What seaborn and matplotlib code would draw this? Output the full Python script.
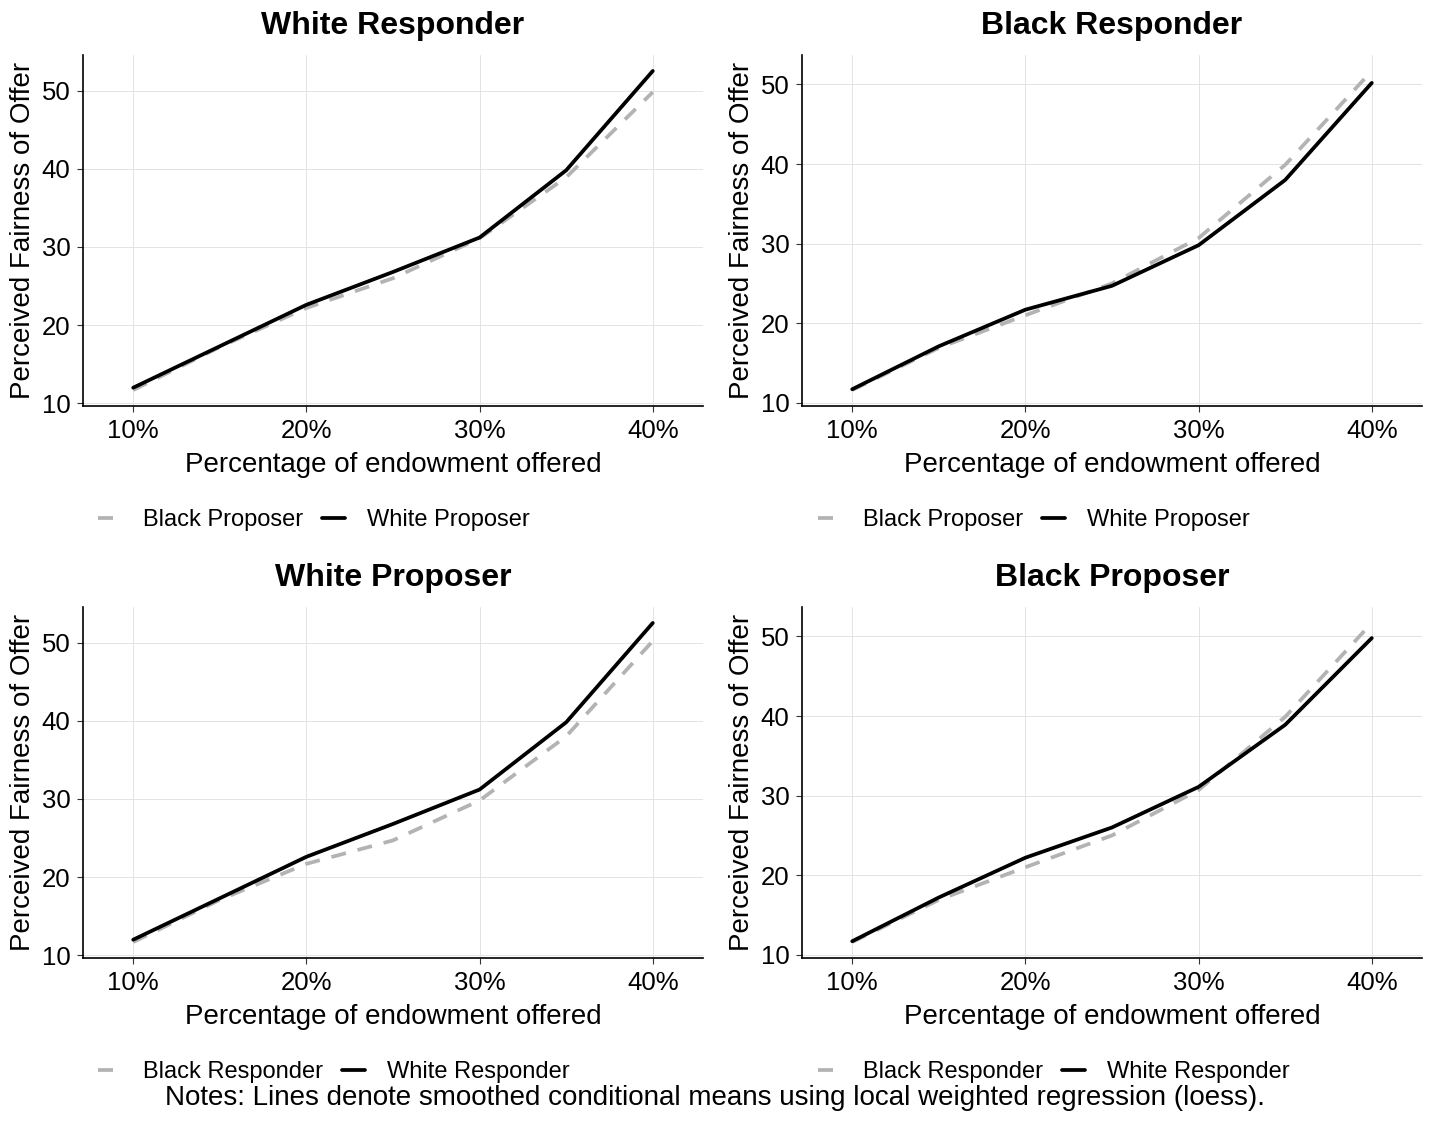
import pandas as pd
import matplotlib.pyplot as plt
import matplotlib.ticker as mticker
import seaborn as sns

# =========================================================
# DATA (loess fitted means)
# =========================================================
offer_pct = [10, 15, 20, 25, 30, 35, 40]

# responder x proposer
white_resp_white_prop = [12.0, 17.3, 22.6, 26.8, 31.2, 39.8, 52.5]
white_resp_black_prop = [11.7, 17.2, 22.2, 26.0, 31.1, 38.9, 49.8]
black_resp_white_prop = [11.7, 17.1, 21.7, 24.7, 29.8, 38.0, 50.2]
black_resp_black_prop = [11.6, 16.9, 21.0, 25.0, 30.7, 39.9, 51.7]

panel_titles = ["White Responder", "Black Responder", "White Proposer", "Black Proposer"]
panel_series = [
    {"Black Proposer": white_resp_black_prop, "White Proposer": white_resp_white_prop},
    {"Black Proposer": black_resp_black_prop, "White Proposer": black_resp_white_prop},
    {"Black Responder": black_resp_white_prop, "White Responder": white_resp_white_prop},
    {"Black Responder": black_resp_black_prop, "White Responder": white_resp_black_prop},
]

notes = "Notes: Lines denote smoothed conditional means using local weighted regression (loess)."

# =========================================================
# STYLE
# =========================================================
sns.set_theme(style="whitegrid")
plt.rcParams["font.family"] = ["Liberation Sans", "DejaVu Sans"]
plt.rcParams["text.color"] = "black"
plt.rcParams["axes.labelcolor"] = "black"
plt.rcParams["xtick.color"] = "black"
plt.rcParams["ytick.color"] = "black"

GREY = "#b3b3b3"
LW = 2.7

fig = plt.figure(figsize=(14.3, 11.44), dpi=100)

left_pos = [83 / 1430, 802 / 1430]
bottom_pos = [1 - 406 / 1144, 1 - 958 / 1144]
ax_w, ax_h = 620 / 1430, 351 / 1144

for i, (title, series) in enumerate(zip(panel_titles, panel_series)):
    row, col = divmod(i, 2)
    ax = fig.add_axes([left_pos[col], bottom_pos[row], ax_w, ax_h])

    names = list(series.keys())
    df = pd.concat([pd.DataFrame({"offer": offer_pct, "fair": vals, "group": name})
                    for name, vals in series.items()])

    sns.lineplot(data=df, x="offer", y="fair", hue="group", style="group",
                 hue_order=names, style_order=names,
                 palette={names[0]: GREY, names[1]: "black"},
                 dashes={names[0]: (4, 3.2), names[1]: ""},
                 linewidth=LW, legend=True, ax=ax)

    lo = df["fair"].min()
    hi = df["fair"].max()
    pad = (hi - lo) * 0.05
    ax.set_ylim(lo - pad, hi + pad)
    ax.set_xlim(7.1, 42.9)

    ax.set_xticks([10, 20, 30, 40])
    ax.xaxis.set_major_formatter(mticker.FuncFormatter(lambda x, _: f"{int(x)}%"))
    ax.set_yticks([10, 20, 30, 40, 50])

    ax.set_title(title, fontsize=23, fontweight="bold", pad=15)
    ax.set_xlabel("Percentage of endowment offered", fontsize=20, labelpad=6)
    ax.set_ylabel("Perceived Fairness of Offer", fontsize=20, labelpad=4)
    ax.tick_params(axis="both", labelsize=18.5, length=4, width=0.8,
                   bottom=True, left=True, color="#333333")
    ax.tick_params(axis="x", pad=5.5)
    ax.tick_params(axis="y", pad=5)

    ax.set_facecolor("white")
    ax.grid(True, color="#e3e3e3", linewidth=0.7)
    for side in ["top", "right"]:
        ax.spines[side].set_visible(False)
    for side in ["left", "bottom"]:
        ax.spines[side].set_visible(True)
        ax.spines[side].set_color("black")
        ax.spines[side].set_linewidth(1.2)

    handles, labels = ax.get_legend_handles_labels()
    ax.get_legend().remove()
    leg_x = (98 + col * 720) / 1430
    leg_y = 1 - (520 + row * 552) / 1144
    fig.legend(handles, labels, loc="center left", bbox_to_anchor=(leg_x, leg_y),
               ncol=2, frameon=False, fontsize=17, handlelength=1.0,
               handletextpad=0.9, columnspacing=0.8,
               borderpad=0, borderaxespad=0)

fig.text(0.5, 1 - 1098 / 1144, notes, ha="center", va="center", fontsize=20)

plt.savefig("out.png", dpi=100, facecolor="white")
plt.close()
